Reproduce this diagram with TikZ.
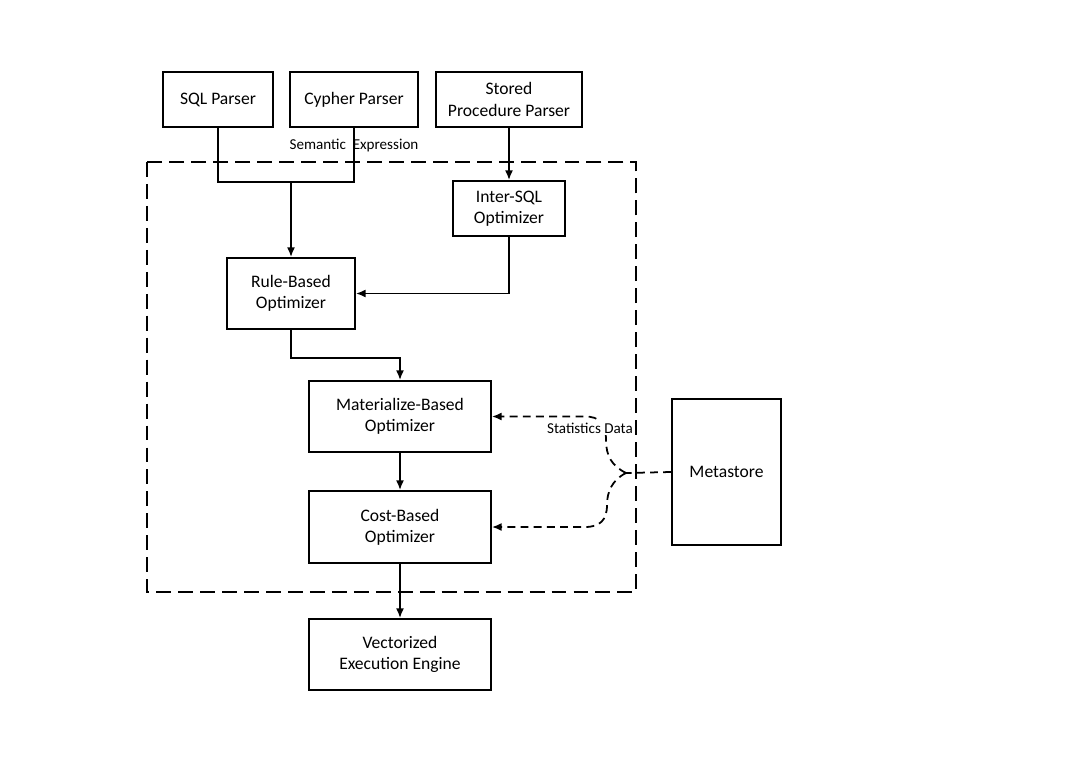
\documentclass[tikz,border=0pt]{standalone}
\usepackage{fontspec}
\setmainfont{Carlito}
\usetikzlibrary{arrows.meta,calc}

\tikzset{
	optbox/.style={draw, line width=1pt, inner sep=0pt, align=center, font=\fontsize{10}{12}\selectfont},
	flow/.style={line width=1pt, -{Latex[length=5.5pt,width=4.5pt]}},
	statline/.style={line width=1pt, dash pattern=on 4.5pt off 3pt, -{Latex[length=5.5pt,width=4.5pt]}},
	frame/.style={line width=1.5pt, dash pattern=on 8.5pt off 4pt},
	smalllabel/.style={font=\fontsize{8.6}{10}\selectfont, inner sep=1pt}
}

\begin{document}
\begin{tikzpicture}[x=0.02cm, y=-0.02cm]
	\useasboundingbox (0,0) rectangle (1080,764);
	
	% parsers
	\node[optbox, minimum width=2.2cm, minimum height=1.1cm] (sql) at (218,99.5) {SQL Parser};
	\node[optbox, minimum width=2.56cm, minimum height=1.1cm] (cypher) at (354,99.5) {Cypher Parser};
	\node[optbox, minimum width=2.92cm, minimum height=1.1cm] (stored) at (509,99.5) {Stored\\Procedure Parser};
	
	% optimizer frame
	\draw[frame] (147,162) rectangle (636,592);
	
	\node[optbox, minimum width=2.24cm, minimum height=1.1cm] (inter) at (509,208.5) {Inter-SQL\\Optimizer};
	\node[optbox, minimum width=2.56cm, minimum height=1.42cm] (rule) at (291,293.5) {Rule-Based\\Optimizer};
	\node[optbox, minimum width=3.64cm, minimum height=1.42cm] (mat) at (400,416.5) {Materialize-Based\\Optimizer};
	\node[optbox, minimum width=3.64cm, minimum height=1.44cm] (cost) at (400,527) {Cost-Based\\Optimizer};
	\node[optbox, minimum width=3.64cm, minimum height=1.42cm] (vec) at (400,654.5) {Vectorized\\Execution Engine};
	\node[optbox, minimum width=2.18cm, minimum height=2.92cm] (meta) at (726.5,472) {Metastore};
	
	\node[smalllabel] (sem) at (354,145) {Semantic\ \ Expression};
	
	\coordinate (join) at (291,182);
	\coordinate (ruleturn) at (291,358);
	\coordinate (tip) at (626,473);
	
	\draw[line width=1pt] (sql.south) |- (join);
	\draw[line width=1pt] (cypher.south) |- (join);
	\draw[flow] (join) -- (rule.north);
	\draw[flow] (stored) -- (inter);
	\draw[flow] (inter.south) |- (rule.east);
	\draw[flow] (rule.south) -- (ruleturn) -| (mat.north);
	\draw[flow] (mat) -- (cost);
	\draw[flow] (cost) -- (vec);
	
	% statistics data
	\draw[line width=1pt, dash pattern=on 4.5pt off 3pt] (meta.west) -- (tip);
	\draw[statline] (tip) .. controls (612,466) and (606,456) .. (606,440) .. controls (606,424) and (600,416.5) .. (585,416.5) -- (mat.east);
	\draw[statline] (tip) .. controls (612,480) and (607,492) .. (607,505) .. controls (607,520) and (600,527) .. (585,527) -- (cost.east);
	\node[smalllabel, fill=white] (stat) at (590,428) {Statistics Data};
\end{tikzpicture}
\end{document}
